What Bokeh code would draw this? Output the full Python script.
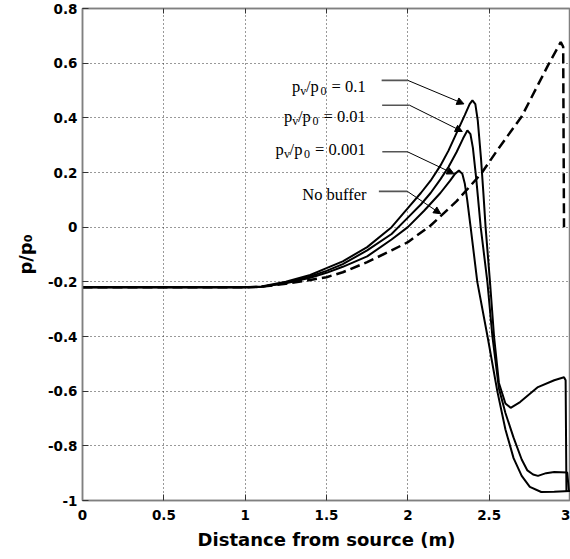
from bokeh.plotting import figure
from bokeh.models import (ColumnDataSource, Label, Arrow, NormalHead, FixedTicker,
                          CustomJSTickFormatter, LinearAxis, Range1d)
from bokeh.embed import file_html
from bokeh.resources import INLINE

# ---------------- data ----------------
x_pv01 = [0, 1.0, 1.1, 1.25, 1.4, 1.5, 1.6, 1.75, 1.9, 2.0, 2.08, 2.14, 2.2, 2.25, 2.3, 2.35,
          2.38, 2.397, 2.415, 2.43, 2.45, 2.465, 2.478, 2.505, 2.53, 2.56, 2.6, 2.632, 2.69,
          2.8, 2.9, 2.96, 2.97, 2.975]
y_pv01 = [-0.22, -0.22, -0.217, -0.2, -0.175, -0.15, -0.125, -0.073, 0.0, 0.07, 0.125, 0.17,
          0.225, 0.28, 0.345, 0.41, 0.45, 0.464, 0.45, 0.39, 0.25, 0.12, 0.0, -0.2, -0.4, -0.57,
          -0.645, -0.661, -0.64, -0.585, -0.56, -0.549, -0.56, -0.965]

x_pv001 = [0, 1.0, 1.1, 1.25, 1.4, 1.5, 1.6, 1.75, 1.9, 2.0, 2.08, 2.14, 2.2, 2.25, 2.3, 2.34,
           2.366, 2.385, 2.4, 2.42, 2.448, 2.489, 2.52, 2.56, 2.6, 2.65, 2.7, 2.735, 2.77, 2.8,
           2.85, 2.9, 2.98, 2.99]
y_pv001 = [-0.22, -0.22, -0.218, -0.203, -0.18, -0.16, -0.135, -0.085, -0.025, 0.035, 0.083,
           0.125, 0.175, 0.22, 0.275, 0.325, 0.354, 0.34, 0.29, 0.18, 0.0, -0.2, -0.4, -0.59,
           -0.68, -0.77, -0.85, -0.89, -0.905, -0.91, -0.9, -0.896, -0.898, -0.965]

x_pv0001 = [0, 1.0, 1.1, 1.25, 1.4, 1.5, 1.6, 1.75, 1.9, 2.0, 2.1, 2.2, 2.26, 2.29, 2.314, 2.335,
            2.35, 2.365, 2.386, 2.427, 2.49, 2.55, 2.6, 2.65, 2.7, 2.75, 2.82, 2.9, 3.0]
y_pv0001 = [-0.22, -0.22, -0.218, -0.205, -0.185, -0.167, -0.145, -0.107, -0.045, 0.0, 0.06,
            0.125, 0.17, 0.195, 0.207, 0.195, 0.16, 0.1, 0.0, -0.2, -0.4, -0.6, -0.74, -0.845,
            -0.91, -0.95, -0.969, -0.968, -0.965]

x_nobuf = [0, 1.0, 1.1, 1.25, 1.4, 1.5, 1.6, 1.75, 1.9, 2.0, 2.14, 2.3, 2.45, 2.56, 2.7, 2.86,
           2.94, 2.955, 2.96]
y_nobuf = [-0.22, -0.22, -0.218, -0.207, -0.193, -0.183, -0.165, -0.128, -0.085, -0.055, 0.006,
           0.095, 0.195, 0.29, 0.405, 0.59, 0.677, 0.66, 0.0]

x_ticks = [0, 0.5, 1, 1.5, 2, 2.5, 3]
y_ticks = [-1, -0.8, -0.6, -0.4, -0.2, 0, 0.2, 0.4, 0.6, 0.8]

pv_values = ["0.1", "0.01", "0.001"]
x_label = "Distance from source (m)"
y_label = "p/p\u2080"

# ---------------- figure ----------------
p = figure(width=570, height=559, x_range=Range1d(0, 3), y_range=Range1d(-1, 0.8),
           output_backend="svg", toolbar_location=None,
           min_border_left=82, min_border_right=0, min_border_top=8, min_border_bottom=59)
p.background_fill_color = "white"
p.border_fill_color = "white"
p.outline_line_color = "#808080"
p.outline_line_width = 1.5

fmt = CustomJSTickFormatter(code="return String(Math.round(tick*10)/10)")
for ax, tk in ((p.xaxis[0], x_ticks), (p.yaxis[0], y_ticks)):
    ax.ticker = FixedTicker(ticks=tk)
    ax.formatter = fmt
    ax.axis_line_color = "#808080"
    ax.axis_line_width = 1.5
    ax.major_tick_in = 6
    ax.major_tick_out = 0
    ax.major_tick_line_color = "#333333"
    ax.minor_tick_line_color = None
    ax.major_label_text_font = "DejaVu Sans"
    ax.major_label_text_font_style = "bold"
    ax.major_label_text_font_size = "13.5px"
    ax.major_label_text_color = "black"
    ax.axis_label_text_font = "DejaVu Sans"
    ax.axis_label_text_font_style = "bold"
    ax.axis_label_text_font_size = "18px"
    ax.axis_label_text_color = "black"
p.yaxis[0].major_label_standoff = 5
p.xaxis[0].major_label_standoff = 9
p.xaxis[0].axis_label = x_label
p.xaxis[0].axis_label_standoff = 6
p.yaxis[0].axis_label = y_label
p.yaxis[0].axis_label_standoff = 9

blank = CustomJSTickFormatter(code="return ''")
top_ax = LinearAxis(ticker=FixedTicker(ticks=x_ticks), formatter=blank,
                    axis_line_color="#808080", axis_line_width=1.5,
                    major_tick_in=5, major_tick_out=0, minor_tick_line_color=None,
                    major_tick_line_color="#333333", major_label_standoff=0)
p.add_layout(top_ax, "above")

p.xgrid.ticker = FixedTicker(ticks=x_ticks)
p.ygrid.ticker = FixedTicker(ticks=y_ticks)
for g in (p.xgrid[0], p.ygrid[0]):
    g.grid_line_color = "#333333"
    g.grid_line_dash = "1 3"
    g.grid_line_width = 1

# ---------------- curves ----------------
p.line(x_nobuf, y_nobuf, line_color="black", line_width=2.5, line_dash="10 5")
p.line(x_pv0001, y_pv0001, line_color="black", line_width=2)
p.line(x_pv001, y_pv001, line_color="black", line_width=2)
p.line(x_pv01, y_pv01, line_color="black", line_width=2)

# ---------------- annotations ----------------
lead_x0 = [1.839, 1.842, 1.843, 1.822]
lead_x1 = [2.0, 2.011, 1.997, 1.997]
lead_y = [0.537, 0.446, 0.276, 0.131]
tip_x = [2.345, 2.335, 2.284, 2.202]
tip_y = [0.451, 0.35, 0.195, 0.049]

p.segment(x0=lead_x0, y0=lead_y, x1=lead_x1, y1=lead_y, line_color="#555555", line_width=1.6)
arr_src = ColumnDataSource(dict(x0=lead_x1, y0=lead_y, x1=tip_x, y1=tip_y))
p.add_layout(Arrow(end=NormalHead(size=7, fill_color="black", line_color="black", line_width=1),
                   x_start="x0", y_start="y0", x_end="x1", y_end="y1", source=arr_src,
                   line_color="black", line_width=1))

lab_x = [1.288, 1.238, 1.187]
lab_y = [0.516, 0.406, 0.285]
serif = "Liberation Serif"
pieces = [("p", 0, 0, 16.5), ("v", 8.3, -5, 12), ("/p", 14, 0, 16.5), ("0", 28.5, -5, 12),
          ("=", 39.5, 0, 16.5)]
for v, lx, ly in zip(pv_values, lab_x, lab_y):
    for txt, dx, dy, fs in pieces + [(v, 53, 0, 16.5)]:
        p.add_layout(Label(x=lx, y=ly, x_offset=dx, y_offset=dy, text=txt,
                           text_font=serif, text_font_size=f"{fs}px", text_color="black",
                           text_align="left", text_baseline="alphabetic"))
p.add_layout(Label(x=1.351, y=0.118, text="No buffer", text_font=serif,
                   text_font_size="16.5px", text_color="black",
                   text_align="left", text_baseline="alphabetic"))

open("out.html", "w").write(file_html(p, INLINE))
